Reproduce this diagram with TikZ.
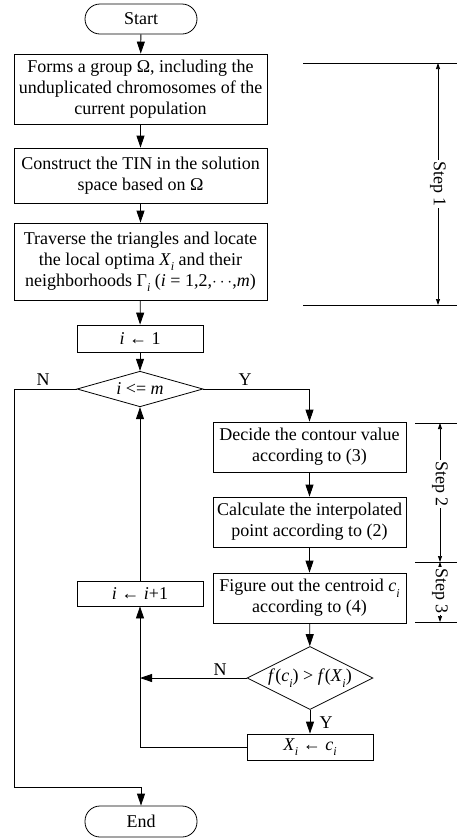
\documentclass[tikz,border=0pt]{standalone}
\usepackage{fontspec}
\setmainfont{Liberation Serif}
\usetikzlibrary{shapes.geometric,arrows.meta}
\newcommand\mysub[1]{\raisebox{-0.3em}{\fontsize{12}{12}\selectfont\textit{#1}}}
\begin{document}
\begin{tikzpicture}[x=1pt,y=-1pt,line width=0.8pt,
  every node/.style={font=\fontsize{18}{21}\selectfont},
  term/.style={draw,rounded corners=15pt,minimum width=112pt,minimum height=30pt,inner sep=0pt},
  procbox/.style={draw,align=center,inner sep=0pt,minimum width=#1},
  decbox/.style={draw,diamond,inner sep=0pt,aspect=2},
  flow/.style={-{Triangle[length=12pt,width=8pt]}},
  steparrow/.style={{Triangle[length=6pt,width=4pt]}-{Triangle[length=6pt,width=4pt]},line width=0.7pt},
  lbl/.style={inner sep=1pt}]
\useasboundingbox (0,0) rectangle (457,839);

\node[term] (start) at (141,19) {Start};
\node[procbox=253pt,minimum height=70pt] (b1) at (140.5,89) {Forms a group Ω, including the\\unduplicated chromosomes of the\\current population};
\node[procbox=253pt,minimum height=55pt] (b2) at (140.5,175.5) {Construct the TIN in the solution\\space based on Ω};
\node[procbox=253pt,minimum height=77pt] (b3) at (140.5,261.5) {Traverse the triangles and locate\\the local optima \textit{X}\mysub{i} and their\\neighborhoods Γ\mysub{i} (\textit{i} = 1,2,$\cdots$,\textit{m})};
\node[procbox=126pt,minimum height=27pt] (init) at (140,338.5) {\textit{i} ← 1};
\node[decbox,minimum width=126pt,minimum height=26pt] (d1) at (140,389) {\textit{i} <= \textit{m}};
\node[procbox=193pt,minimum height=50pt] (dec) at (309.5,447) {Decide the contour value\\according to (3)};
\node[procbox=193pt,minimum height=50pt] (calc) at (309.5,522) {Calculate the interpolated\\point according to (2)};
\node[procbox=193pt,minimum height=50pt] (fig) at (309.5,598) {Figure out the centroid \textit{c}\mysub{i}\\according to (4)};
\node[procbox=126pt,minimum height=25pt] (inc) at (140,593.5) {\textit{i} ← \textit{i}+1};
\node[decbox,minimum width=126pt,minimum height=63pt] (d2) at (310,678) {\textit{f}(\textit{c}\mysub{i}) > \textit{f}(\textit{X}\mysub{i})};
\node[procbox=126pt,minimum height=26pt] (upd) at (310,747) {\textit{X}\mysub{i} ← \textit{c}\mysub{i}};
\node[term,minimum height=31pt] (end) at (141,821.5) {End};

\draw[flow] (start) -- (b1);
\draw[flow] (b1) -- (b2);
\draw[flow] (b2) -- (b3);
\draw[flow] (b3) -- (init);
\draw[flow] (init) -- (d1);
\coordinate (lc) at (14,787);
\draw[flow] (d1.west) -| (lc) -| (end.north);
\draw[flow] (d1.east) -| (dec.north);
\draw[flow] (dec) -- (calc);
\draw[flow] (calc) -- (fig);
\draw[flow] (fig) -- (d2);
\draw[flow] (d2.west) -- (inc.south |- d2.west);
\draw[flow] (d2) -- (upd);
\draw[flow] (upd.west) -| (inc.south);
\draw[flow] (inc) -- (d1);

\node[lbl] (n1) at (43,380) {N};
\node[lbl] (y1) at (245,380) {Y};
\node[lbl] (n2) at (220,670) {N};
\node[lbl] (y2) at (326,723) {Y};

% step brackets
\coordinate (s1a) at (303,63);  \coordinate (s1b) at (457,63);
\coordinate (s1c) at (303,305); \coordinate (s1d) at (457,305);
\coordinate (s1t) at (438,63);  \coordinate (s1u) at (438,305);
\draw[line width=0.7pt] (s1a) -- (s1b);
\draw[line width=0.7pt] (s1c) -- (s1d);
\draw[steparrow] (s1t) -- (s1u);
\node[rotate=-90,fill=white,inner sep=1pt] (st1) at (438,184) {Step 1};

\coordinate (s2a) at (415,423); \coordinate (s2b) at (457,423);
\coordinate (s2c) at (415,562); \coordinate (s2d) at (457,562);
\coordinate (s3c) at (415,622); \coordinate (s3d) at (457,622);
\coordinate (s2t) at (440,423); \coordinate (s2u) at (440,562);
\coordinate (s3u) at (440,622);
\draw[line width=0.7pt] (s2a) -- (s2b);
\draw[line width=0.7pt] (s2c) -- (s2d);
\draw[line width=0.7pt] (s3c) -- (s3d);
\draw[steparrow] (s2t) -- (s2u);
\draw[steparrow] (s2u) -- (s3u);
\node[rotate=-90,fill=white,inner sep=1pt] (st2) at (440,484) {Step 2};
\node[rotate=-90,fill=white,inner sep=1pt] (st3) at (440,591) {Step 3};
\end{tikzpicture}
\end{document}
